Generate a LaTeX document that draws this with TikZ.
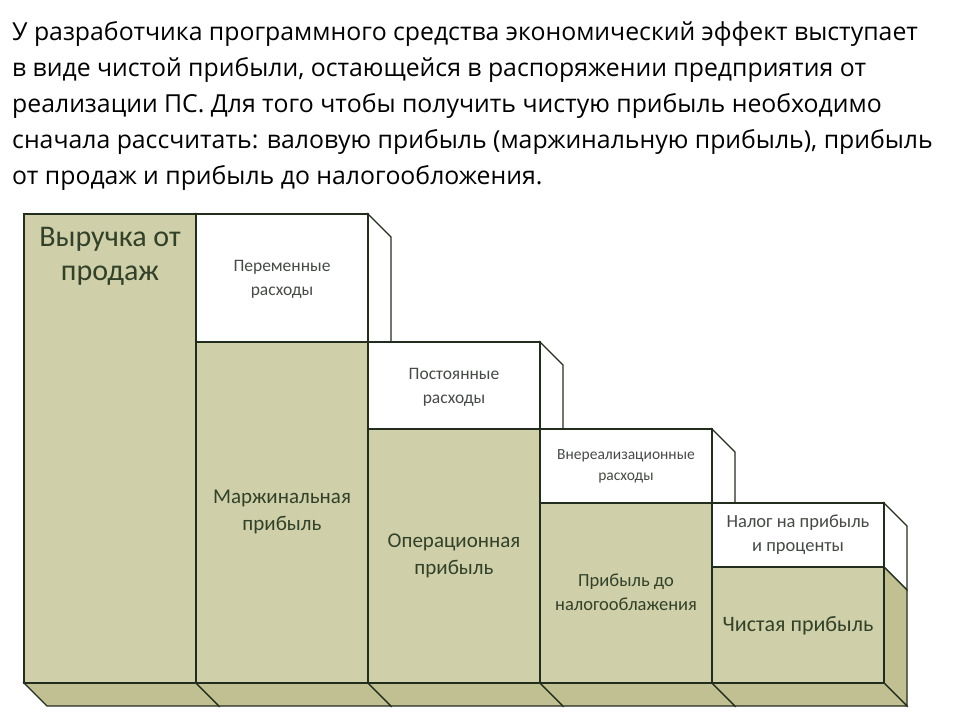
\documentclass[tikz,border=0pt]{standalone}
\usepackage{fontspec}
\setmainfont{Carlito}
\newfontfamily\hdr{Open Sans}
\begin{document}
\begin{tikzpicture}[x=1pt,y=-1pt,
  front/.style={draw=bord,line width=1.2pt},
  lbl/.style={text=txt,align=center},
  hl/.style={anchor=base west,font=\hdr\fontsize{24.8}{28}\selectfont,inner sep=0pt}]
\definecolor{ol}{RGB}{207,207,170}
\definecolor{ols}{RGB}{192,192,146}
\definecolor{bord}{RGB}{35,45,30}
\definecolor{txt}{RGB}{50,65,40}
\definecolor{txg}{RGB}{70,75,70}
\useasboundingbox (0,0) rectangle (960,720);
\fill[white] (0,0) rectangle (960,720);
\node[hl] (h1) at (12,40) {У разработчика программного средства экономический эффект выступает};
\node[hl] (h2) at (12,76) {в виде чистой прибыли, остающейся в распоряжении предприятия от};
\node[hl] (h3) at (12,112) {реализации ПС. Для того чтобы получить чистую прибыль необходимо};
\node[hl] (h4) at (12,148) {сначала рассчитать: валовую прибыль (маржинальную прибыль), прибыль};
\node[hl] (h5) at (12,184) {от продаж и прибыль до налогообложения.};
\foreach \a/\b/\t/\s in {24/196/214/214,196/368/214/342,368/540/342/429,540/712/429/503,712/884/503/567}{
  \filldraw[fill=white,draw=bord,line width=1.2pt] (\b,\t) -- (\b+23,\t+23) -- (\b+23,\s+23) -- (\b,\s) -- cycle;
  \filldraw[fill=ols,draw=bord,line width=1.2pt] (\b,\s) -- (\b+23,\s+23) -- (\b+23,706) -- (\b,683) -- cycle;
  \filldraw[fill=ols,draw=bord,line width=1.2pt] (\a,683) -- (\b,683) -- (\b+23,706) -- (\a+23,706) -- cycle;
}
\filldraw[front,fill=ol] (24,214) rectangle (196,683);
\foreach \a/\b/\t/\s in {196/368/214/342,368/540/342/429,540/712/429/503,712/884/503/567}{
  \filldraw[front,fill=white] (\a,\t) rectangle (\b,\s);
  \filldraw[front,fill=ol] (\a,\s) rectangle (\b,683);
}
\node[text=txt,align=center,font=\fontsize{30}{34}\selectfont] (n1) at (110,256) {Выручка от\\продаж};
\node[lbl,text=txg,font=\fontsize{17.5}{24}\selectfont] (n2) at (282,279) {Переменные\\расходы};
\node[lbl,font=\fontsize{21}{27}\selectfont] (n3) at (282,512) {Маржинальная\\прибыль};
\node[lbl,text=txg,font=\fontsize{17.5}{24}\selectfont] (n4) at (454,387) {Постоянные\\расходы};
\node[lbl,font=\fontsize{21}{27}\selectfont] (n5) at (454,556) {Операционная\\прибыль};
\node[lbl,text=txg,font=\fontsize{15.5}{21}\selectfont] (n6) at (626,466) {Внереализационные\\расходы};
\node[lbl,font=\fontsize{18.5}{24}\selectfont] (n7) at (626,592) {Прибыль до\\налогооблажения};
\node[lbl,text=txg,font=\fontsize{18.5}{24}\selectfont] (n8) at (798,535) {Налог на прибыль\\и проценты};
\node[lbl,font=\fontsize{22}{26}\selectfont] (n9) at (798,626) {Чистая прибыль};
\end{tikzpicture}
\end{document}
